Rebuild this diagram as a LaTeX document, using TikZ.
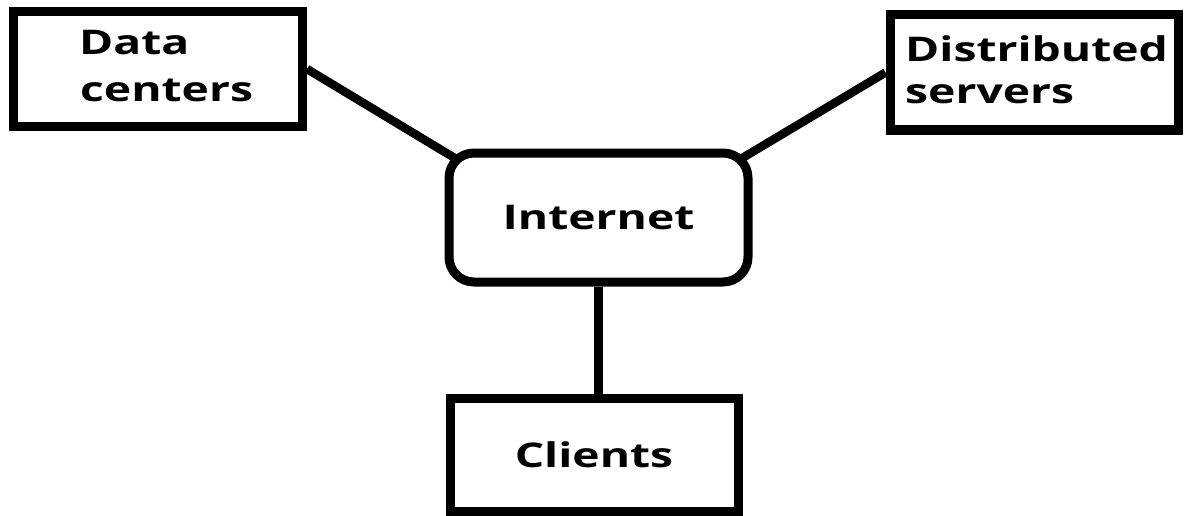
\documentclass[tikz,border=0pt]{standalone}
\usepackage{fontspec}
\setmainfont[FakeStretch=1.36]{Open Sans}
\begin{document}
\begin{tikzpicture}[x=1pt,y=-1pt,
  box/.style={draw=black,line width=9pt,inner sep=0pt,
    font=\fontsize{34}{40}\selectfont\bfseries},
  conn/.style={draw=black,line width=8.5pt},
  lbl/.style={inner sep=0pt,anchor=base west,
    font=\fontsize{34}{40}\selectfont\bfseries}]
\fill[white] (0,0) rectangle (1185,516);
\useasboundingbox (0,0) rectangle (1185,516);
% boxes
\node[box, minimum width=289pt, minimum height=115pt] (dc) at (158,69) {};
\node[box, minimum width=288pt, minimum height=115pt] (ds) at (1034,72.5) {};
\node[box, rounded corners=25pt, minimum width=299pt, minimum height=129pt] (inet) at (598.5,217.5) {Internet};
\node[box, minimum width=288pt, minimum height=113pt] (cl) at (594,454.5) {Clients};
% labels
\node[lbl] (dct1) at (79,55) {Data};
\node[lbl] (dct2) at (80,102) {centers};
\node[lbl] (dst1) at (905,62) {Distributed};
\node[lbl] (dst2) at (905,103) {servers};
% connectors
\draw[conn] (dc.east) -- ([shift={(11pt,-10pt)}]inet.north west);
\draw[conn] (ds.west) -- ([shift={(-11pt,-10pt)}]inet.north east);
\draw[conn] (inet.south) -- (inet.south |- cl.north);
\end{tikzpicture}
\end{document}
